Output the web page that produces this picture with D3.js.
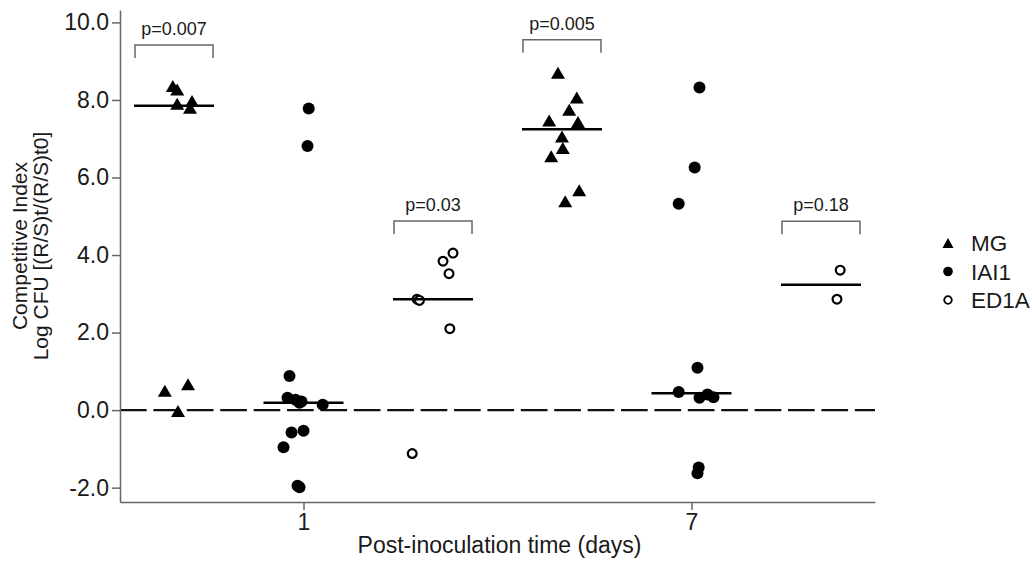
<!DOCTYPE html>
<html>
<head>
<meta charset="utf-8">
<script src="https://cdn.jsdelivr.net/npm/d3@7/dist/d3.min.js"></script>
<style>
  html, body { margin: 0; padding: 0; background: #fff; }
  svg { display: block; font-family: "Liberation Sans", Arial, Helvetica, sans-serif; }
</style>
</head>
<body>
<svg id="chart" width="1032" height="567"></svg>
<script>
// Post-inoculation days and strains
const days = ["1", "7"];
const strains = ["MG", "IAI1", "ED1A"];
const yTicks = [-2, 0, 2, 4, 6, 8, 10];

// Competitive index values, log CFU [(R/S)t/(R/S)t0]
const mgDay1   = [8.36, 8.27, 7.90, 7.97, 7.80, 0.50, 0.67, -0.02];
const iai1Day1 = [7.78, 6.81, 0.88, 0.32, 0.27, 0.22, 0.19, 0.14, -0.58, -0.53, -0.96, -1.95, -1.99];
const ed1aDay1 = [4.05, 3.84, 3.52, 2.86, 2.83, 2.10, -1.12];
const mgDay7   = [8.70, 8.06, 7.75, 7.47, 7.43, 7.06, 6.76, 6.55, 5.67, 5.39];
const iai1Day7 = [8.32, 6.26, 5.32, 1.09, 0.47, 0.32, 0.40, 0.33, -1.48, -1.63];
const ed1aDay7 = [3.61, 2.86];

// Horizontal jitter of each point, as a fraction of the group half-width
const mgDay1Jitter   = [-0.03, 0.08, 0.08, 0.45, 0.40, -0.23, 0.35, 0.10];
const iai1Day1Jitter = [0.13, 0.10, -0.35, -0.40, -0.20, -0.05, -0.10, 0.48, -0.30, 0.00, -0.50, -0.15, -0.10];
const ed1aDay1Jitter = [0.50, 0.25, 0.40, -0.40, -0.34, 0.42, -0.52];
const mgDay7Jitter   = [-0.10, 0.37, 0.18, -0.32, 0.40, 0.00, 0.02, -0.27, 0.43, 0.08];
const iai1Day7Jitter = [0.20, 0.08, -0.32, 0.15, -0.32, 0.20, 0.40, 0.55, 0.18, 0.15];
const ed1aDay7Jitter = [0.48, 0.40];

// Wilcoxon p-values shown above groups, and bracket level (CI units)
const pLabels = ["p=0.007", "p=0.03", "p=0.005", "p=0.18"];
const pDays = ["1", "1", "7", "7"];
const pStrains = ["MG", "ED1A", "MG", "ED1A"];
const pLevels = [9.42, 4.88, 9.55, 4.87];

const groups = [
  { day: "1", strain: "MG",   values: mgDay1,   jitter: mgDay1Jitter },
  { day: "1", strain: "IAI1", values: iai1Day1, jitter: iai1Day1Jitter },
  { day: "1", strain: "ED1A", values: ed1aDay1, jitter: ed1aDay1Jitter },
  { day: "7", strain: "MG",   values: mgDay7,   jitter: mgDay7Jitter },
  { day: "7", strain: "IAI1", values: iai1Day7, jitter: iai1Day7Jitter },
  { day: "7", strain: "ED1A", values: ed1aDay7, jitter: ed1aDay7Jitter }
];

const svg = d3.select("#chart");
const plotLeft = 120, plotRight = 875, plotTop = 10, plotBottom = 502;
const axisColor = "#666";
const textColor = "#1a1a1a";
const fontStack = "'Liberation Sans', Arial, Helvetica, sans-serif";

const x = d3.scalePoint().domain(days).range([plotLeft, plotRight]).padding(0.473);
const xInner = d3.scalePoint().domain(strains).range([-129.5, 129.5]);
const halfW = 40;
const jx = d3.scaleLinear().domain([-1, 1]).range([-halfW, halfW]);
const y = d3.scaleLinear().domain([-2.37, 10.32]).range([plotBottom, plotTop]);
const cx = (day, strain) => x(day) + xInner(strain);

// Tick format with a plain hyphen for negatives
const fmt = d3.formatLocale({ decimal: ".", thousands: ",", grouping: [3], currency: ["", ""], minus: "-" }).format(".1f");

// Marker shapes
const triPath = (w, h) => `M0,${-h / 2}L${w / 2},${h / 2}L${-w / 2},${h / 2}Z`;
function drawMarker(sel, strain, big) {
  if (strain === "MG") {
    sel.append("path").attr("d", big ? triPath(14, 12) : triPath(11, 10)).attr("fill", "#000");
  } else if (strain === "IAI1") {
    sel.append("circle").attr("r", big ? 6 : 4.8).attr("fill", "#000");
  } else {
    sel.append("circle").attr("r", big ? 4.4 : 3.8).attr("fill", "#fff")
      .attr("stroke", "#000").attr("stroke-width", big ? 2.2 : 1.8);
  }
}

// Reference line at zero
svg.append("line")
  .attr("x1", plotLeft).attr("x2", plotRight)
  .attr("y1", y(0)).attr("y2", y(0))
  .attr("stroke", "#111").attr("stroke-width", 2.3)
  .attr("stroke-dasharray", "26.7,6.7");

// Axes
const yAxis = svg.append("g")
  .attr("transform", `translate(${plotLeft},0)`)
  .call(d3.axisLeft(y).tickValues(yTicks).tickFormat(fmt)
    .tickSize(8).tickSizeOuter(0).tickPadding(3));
const xAxis = svg.append("g")
  .attr("transform", `translate(0,${plotBottom})`)
  .call(d3.axisBottom(x).tickSize(8).tickSizeOuter(0).tickPadding(4));
[yAxis, xAxis].forEach(g => {
  g.selectAll("path, line").attr("stroke", axisColor).attr("stroke-width", 1.5);
  g.selectAll("text").attr("fill", textColor).style("font-size", "23px")
    .style("font-family", fontStack);
});

// Points
groups.forEach(g => {
  const c = cx(g.day, g.strain);
  g.values.forEach((v, i) => {
    const m = svg.append("g").attr("transform", `translate(${c + jx(g.jitter[i])},${y(v)})`);
    drawMarker(m, g.strain, true);
  });
});

// Median lines
groups.forEach(g => {
  const c = cx(g.day, g.strain);
  const med = d3.median(g.values);
  svg.append("line")
    .attr("x1", c - halfW).attr("x2", c + halfW)
    .attr("y1", y(med)).attr("y2", y(med))
    .attr("stroke", "#000").attr("stroke-width", 2.5);
});

// Significance brackets
pLabels.forEach((label, i) => {
  const c = cx(pDays[i], pStrains[i]);
  const yb = y(pLevels[i]);
  svg.append("path")
    .attr("d", `M${c - 39},${yb + 13}V${yb}H${c + 39}V${yb + 13}`)
    .attr("fill", "none").attr("stroke", axisColor).attr("stroke-width", 1.5);
  svg.append("text")
    .attr("x", c).attr("y", yb - 10)
    .attr("text-anchor", "middle").attr("fill", textColor)
    .style("font-size", "18px").text(label);
});

// Axis titles
svg.append("text")
  .attr("x", (plotLeft + plotRight) / 2 + 2).attr("y", 553)
  .attr("text-anchor", "middle").attr("fill", textColor)
  .style("font-size", "23px").text("Post-inoculation time (days)");
const yTitle = svg.append("text")
  .attr("transform", "translate(0,246) rotate(-90)")
  .attr("text-anchor", "middle").attr("fill", textColor)
  .style("font-size", "21px");
yTitle.append("tspan").attr("x", 0).attr("y", 27).text("Competitive Index");
yTitle.append("tspan").attr("x", 0).attr("y", 48).text("Log CFU [(R/S)t/(R/S)t0]");

// Legend
const legend = svg.append("g").attr("transform", "translate(948,243)");
strains.forEach((s, i) => {
  const row = legend.append("g").attr("transform", `translate(0,${i * 28.5})`);
  drawMarker(row, s, false);
  row.append("text").attr("x", 23).attr("y", 8)
    .attr("fill", textColor).style("font-size", "22.5px").text(s);
});
</script>
</body>
</html>
